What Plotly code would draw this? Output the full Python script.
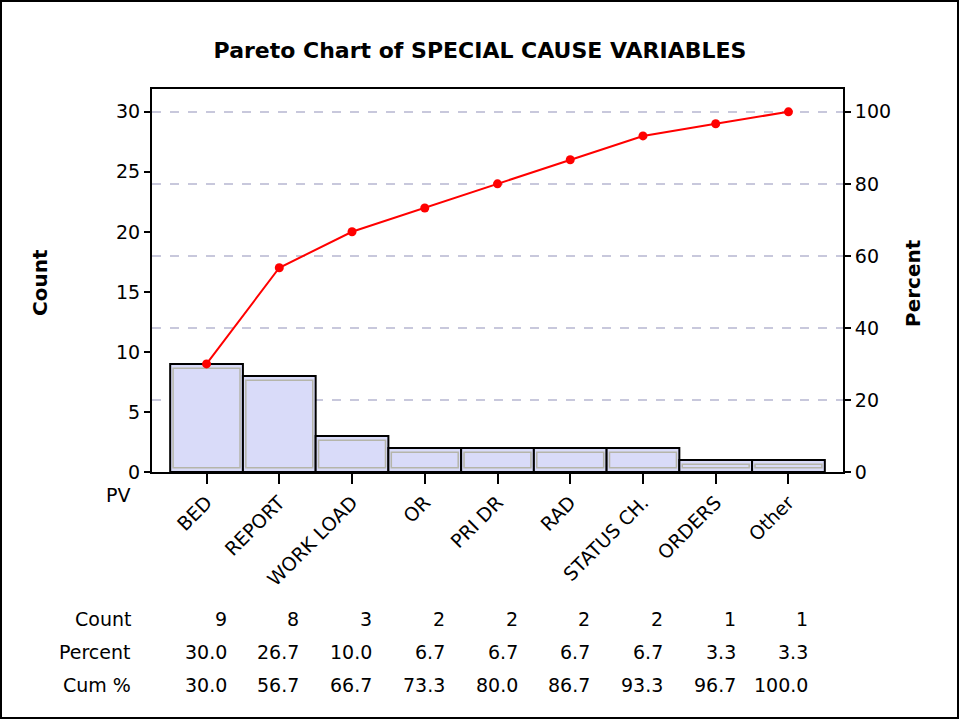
import plotly.graph_objects as go

# Pareto data
categories = ["BED", "REPORT", "WORK LOAD", "OR", "PRI DR", "RAD", "STATUS CH.", "ORDERS", "Other"]
counts = [9, 8, 3, 2, 2, 2, 2, 1, 1]
percents = [30.0, 26.7, 10.0, 6.7, 6.7, 6.7, 6.7, 3.3, 3.3]
cum_percents = [30.0, 56.7, 66.7, 73.3, 80.0, 86.7, 93.3, 96.7, 100.0]
count_ticks = [0, 5, 10, 15, 20, 25, 30]
percent_ticks = [0, 20, 40, 60, 80, 100]

FONT = "DejaVu Sans"
x_idx = list(range(len(categories)))

fig = go.Figure()

# bars
fig.add_trace(go.Bar(x=x_idx, y=counts, width=1.0,
                     marker=dict(color="#D9DBF9", line=dict(color="black", width=2)),
                     showlegend=False))
# inner gray border (Minitab style)
fig.add_trace(go.Bar(x=x_idx, y=[c - 0.7 for c in counts], base=0.35, width=0.92,
                     marker=dict(color="rgba(0,0,0,0)", line=dict(color="#B5B5AA", width=1.5)),
                     showlegend=False))

# cumulative percent line
fig.add_trace(go.Scatter(x=x_idx, y=cum_percents, yaxis="y2", mode="lines+markers",
                         line=dict(color="#FF0000", width=2),
                         marker=dict(color="#FF0000", size=9),
                         showlegend=False))

fig.update_layout(
    width=960, height=720,
    margin=dict(l=152, r=117, t=89, b=248),
    paper_bgcolor="white", plot_bgcolor="white",
    barmode="overlay",
    font=dict(family=FONT, size=19, color="black"),
    title=dict(text="<b>Pareto Chart of SPECIAL CAUSE VARIABLES</b>", x=0.5, xanchor="center",
               y=1 - 50 / 720, yanchor="middle", font=dict(size=22)),
    xaxis=dict(range=[-0.75, 8.75], tickmode="array", tickvals=x_idx, ticktext=categories,
               tickangle=-45, ticks="outside", ticklen=10, tickwidth=2, tickcolor="black",
               tickfont=dict(size=19),
               showline=True, linecolor="black", linewidth=2, mirror=True,
               showgrid=False, zeroline=False),
    yaxis=dict(range=[0, 31.9], tickvals=count_ticks, ticks="outside", ticklen=6,
               tickwidth=2, tickcolor="black", showline=True, linecolor="black", linewidth=2,
               showgrid=False, zeroline=False),
    yaxis2=dict(range=[0, 31.9 * 100 / 30], tickvals=percent_ticks, overlaying="y", side="right",
                ticks="outside", ticklen=6, tickwidth=2, tickcolor="black",
                showline=True, linecolor="black", linewidth=2,
                showgrid=True, gridcolor="#C8C8DC", griddash="dash", gridwidth=1.5,
                zeroline=False, layer="below traces"),
)

anns = []
# axis titles
anns.append(dict(text="<b>Count</b>", x=40, y=283, textangle=-90, font=dict(size=20)))
anns.append(dict(text="<b>Percent</b>", x=913, y=283, textangle=-90, font=dict(size=20)))
anns.append(dict(text="PV", x=118, y=495))
for a in anns:
    a["xref"] = "paper"
    a["yref"] = "paper"
    a["showarrow"] = False
    a["x"] = (a["x"] - 152) / 691
    a["y"] = (472 - a["y"]) / 383
    a["xanchor"] = "center"
    a["yanchor"] = "middle"

# table below chart
row_labels = ["Count", "Percent", "Cum %"]
row_y = [619, 652, 685]
row_values = [[str(c) for c in counts],
              ["%.1f" % p for p in percents],
              ["%.1f" % p for p in cum_percents]]
for label, yy, vals in zip(row_labels, row_y, row_values):
    py = (472 - yy) / 383
    anns.append(dict(text=label, x=(133 - 152) / 691, y=py, xref="paper", yref="paper",
                     xanchor="right", yanchor="middle", showarrow=False))
    for i, v in enumerate(vals):
        anns.append(dict(text=v, x=i, y=py, xref="x", yref="paper", xshift=22,
                         xanchor="right", yanchor="middle", showarrow=False))

fig.update_layout(annotations=anns)

# outer frame
fig.add_shape(type="rect", xref="paper", yref="paper",
              x0=(1 - 152) / 691, x1=(958 - 152) / 691,
              y0=(472 - 718) / 383, y1=(472 - 1) / 383,
              line=dict(color="black", width=2))

fig.write_html("out.html", config={"displayModeBar": False},
               post_script="document.body.style.margin='0';document.body.style.overflow='hidden';")
